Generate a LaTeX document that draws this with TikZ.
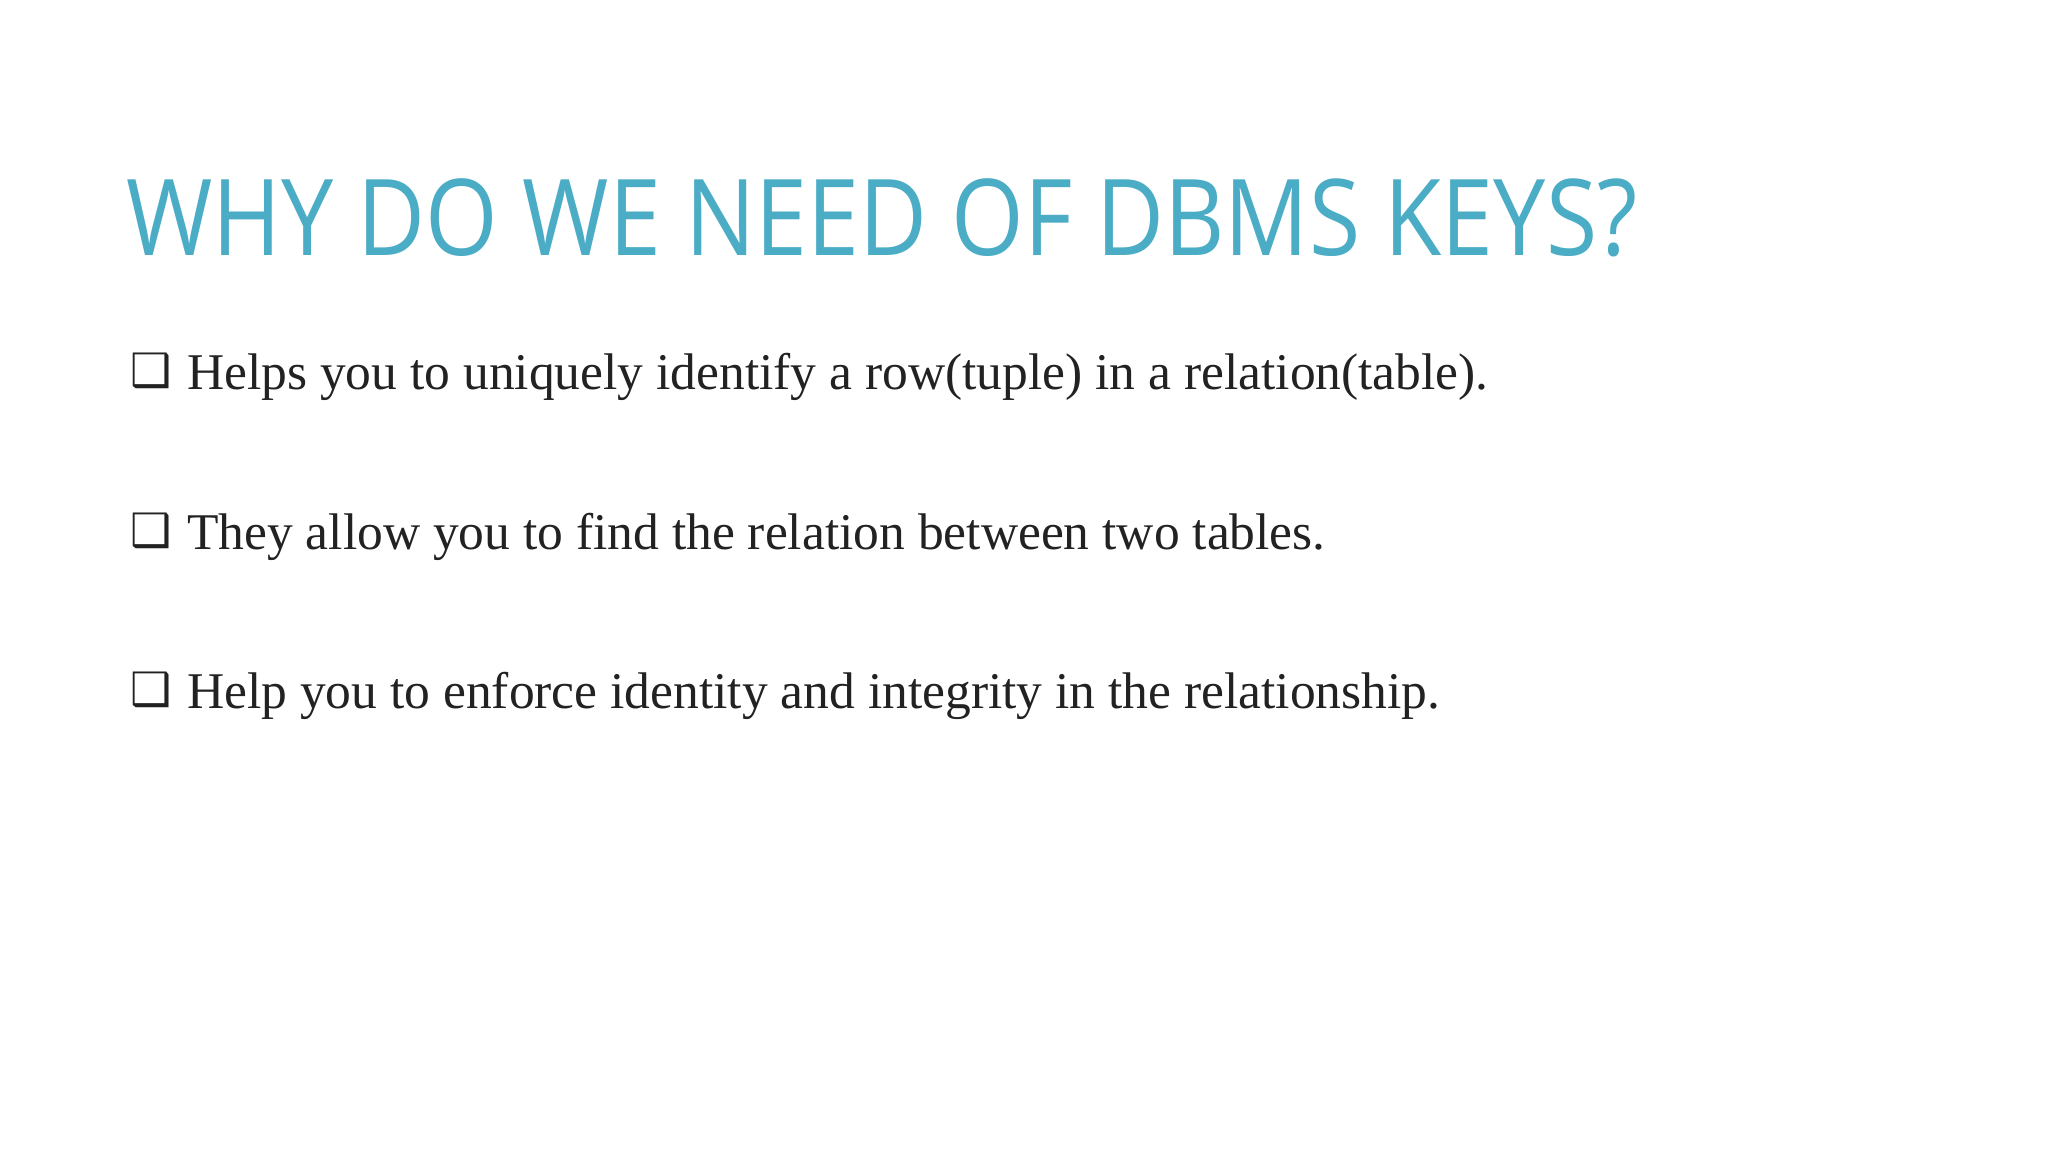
\documentclass[tikz,border=0pt]{standalone}
\usepackage{fontspec}
\setmainfont{Liberation Serif}
\newfontfamily\titlefont[FakeStretch=0.88]{Open Sans}
\newfontfamily\symfont{DejaVu Sans}
\definecolor{titleblue}{HTML}{4BACC6}
\definecolor{txt}{HTML}{222222}
\begin{document}
\begin{tikzpicture}[x=1pt,y=-1pt,
  bul/.style={anchor=base west,inner sep=0pt,text=txt,font=\fontsize{51.5}{54}\selectfont},
  box/.style={anchor=base west,inner sep=0pt,text=txt,font=\symfont\fontsize{46}{46}\selectfont}]
\useasboundingbox[fill=white] (0,0) rectangle (2048,1152);
\node[anchor=base west,inner sep=0pt,text=titleblue,font=\titlefont\fontsize{106}{106}\selectfont] (title) at (126,255) {WHY DO WE NEED OF DBMS KEYS?};
\node[box] (b1) at (130,386) {❑};
\node[bul] (t1) at (187,389) {Helps you to uniquely identify a row(tuple) in a relation(table).};
\node[box] (b2) at (130,546) {❑};
\node[bul] (t2) at (187,549) {They allow you to find the relation between two tables.};
\node[box] (b3) at (130,705) {❑};
\node[bul] (t3) at (187,708) {Help you to enforce identity and integrity in the relationship.};
\end{tikzpicture}
\end{document}
